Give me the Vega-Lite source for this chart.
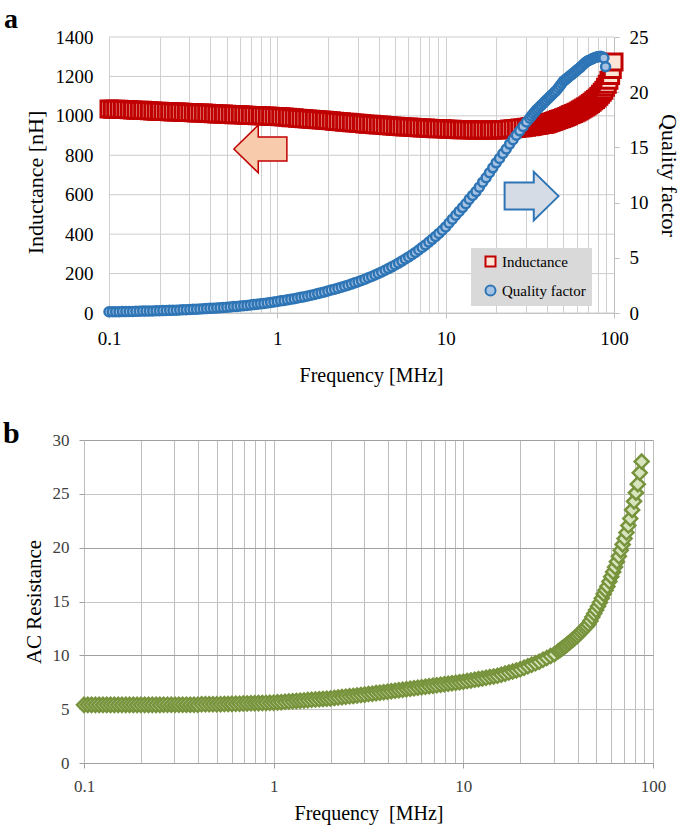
{
"$schema": "https://vega.github.io/schema/vega-lite/v6.json",
"background": "white",
"padding": {"left": 3, "top": 6, "right": 7, "bottom": 10},
"config": {
  "font": "Liberation Serif",
  "view": {"stroke": null},
  "style": {"guide-label": {"font": "Liberation Serif"}, "guide-title": {"font": "Liberation Serif"}},
  "axis": {"labelFont": "Liberation Serif", "titleFont": "Liberation Serif", "titleFontWeight": "normal", "titleColor": "black", "labelColor": "black"},
  "title": {"font": "Liberation Serif", "fontWeight": "bold", "color": "black", "baseline": "alphabetic"},
  "legend": {"orient": "none", "legendX": 387, "legendY": 211, "fillColor": "#d9d9d9", "padding": 6, "labelFont": "Liberation Serif", "labelFontSize": 15, "labelColor": "black", "symbolSize": 100, "symbolStrokeWidth": 2, "rowPadding": 10, "labelOffset": 4, "symbolOffset": 6}
},
"data": {"values": [
{"f":0.1,"L":1035,"Q":0.11,"R":5.4},{"f":0.1047,"L":1034,"Q":0.11,"R":5.4},{"f":0.1096,"L":1034,"Q":0.12,"R":5.4},{"f":0.1148,"L":1033,"Q":0.12,"R":5.4},{"f":0.1202,"L":1032,"Q":0.13,"R":5.4},
{"f":0.1259,"L":1032,"Q":0.13,"R":5.4},{"f":0.1318,"L":1031,"Q":0.14,"R":5.4},{"f":0.138,"L":1030,"Q":0.14,"R":5.4},{"f":0.1445,"L":1029,"Q":0.15,"R":5.4},{"f":0.1514,"L":1029,"Q":0.16,"R":5.4},
{"f":0.1585,"L":1028,"Q":0.17,"R":5.4},{"f":0.166,"L":1027,"Q":0.17,"R":5.4},{"f":0.1738,"L":1026,"Q":0.18,"R":5.4},{"f":0.182,"L":1025,"Q":0.19,"R":5.4},{"f":0.1905,"L":1024,"Q":0.2,"R":5.4},
{"f":0.1995,"L":1023,"Q":0.21,"R":5.4},{"f":0.2089,"L":1022,"Q":0.22,"R":5.4},{"f":0.2188,"L":1022,"Q":0.23,"R":5.4},{"f":0.2291,"L":1021,"Q":0.24,"R":5.4},{"f":0.2399,"L":1020,"Q":0.25,"R":5.4},
{"f":0.2512,"L":1020,"Q":0.26,"R":5.4},{"f":0.263,"L":1019,"Q":0.28,"R":5.42},{"f":0.2754,"L":1018,"Q":0.29,"R":5.42},{"f":0.2884,"L":1017,"Q":0.3,"R":5.42},{"f":0.302,"L":1017,"Q":0.32,"R":5.42},
{"f":0.3162,"L":1016,"Q":0.33,"R":5.42},{"f":0.3311,"L":1015,"Q":0.35,"R":5.42},{"f":0.3467,"L":1014,"Q":0.36,"R":5.42},{"f":0.3631,"L":1014,"Q":0.38,"R":5.42},{"f":0.3802,"L":1013,"Q":0.4,"R":5.42},
{"f":0.3981,"L":1012,"Q":0.42,"R":5.42},{"f":0.4169,"L":1011,"Q":0.44,"R":5.45},{"f":0.4365,"L":1010,"Q":0.46,"R":5.45},{"f":0.4571,"L":1009,"Q":0.48,"R":5.45},{"f":0.4786,"L":1009,"Q":0.5,"R":5.45},
{"f":0.5012,"L":1008,"Q":0.53,"R":5.45},{"f":0.5248,"L":1007,"Q":0.55,"R":5.46},{"f":0.5495,"L":1006,"Q":0.58,"R":5.47},{"f":0.5754,"L":1006,"Q":0.6,"R":5.48},{"f":0.6026,"L":1005,"Q":0.63,"R":5.49},
{"f":0.631,"L":1004,"Q":0.66,"R":5.5},{"f":0.6607,"L":1003,"Q":0.69,"R":5.51},{"f":0.6918,"L":1002,"Q":0.73,"R":5.52},{"f":0.7244,"L":1002,"Q":0.76,"R":5.53},{"f":0.7586,"L":1001,"Q":0.8,"R":5.54},
{"f":0.7943,"L":1000,"Q":0.83,"R":5.55},{"f":0.8318,"L":999,"Q":0.87,"R":5.56},{"f":0.871,"L":999,"Q":0.91,"R":5.57},{"f":0.912,"L":998,"Q":0.96,"R":5.58},{"f":0.955,"L":997,"Q":1.0,"R":5.59},
{"f":1,"L":997,"Q":1.05,"R":5.6},{"f":1.047,"L":995,"Q":1.1,"R":5.63},{"f":1.096,"L":994,"Q":1.14,"R":5.65},{"f":1.148,"L":993,"Q":1.19,"R":5.68},{"f":1.202,"L":991,"Q":1.25,"R":5.71},
{"f":1.259,"L":990,"Q":1.3,"R":5.73},{"f":1.318,"L":988,"Q":1.36,"R":5.76},{"f":1.38,"L":987,"Q":1.42,"R":5.79},{"f":1.445,"L":985,"Q":1.48,"R":5.81},{"f":1.514,"L":984,"Q":1.54,"R":5.84},
{"f":1.585,"L":983,"Q":1.61,"R":5.87},{"f":1.66,"L":981,"Q":1.68,"R":5.89},{"f":1.738,"L":980,"Q":1.76,"R":5.92},{"f":1.82,"L":979,"Q":1.83,"R":5.95},{"f":1.905,"L":978,"Q":1.91,"R":5.97},
{"f":1.995,"L":977,"Q":2.0,"R":6.0},{"f":2.089,"L":975,"Q":2.08,"R":6.04},{"f":2.188,"L":973,"Q":2.16,"R":6.08},{"f":2.291,"L":972,"Q":2.25,"R":6.12},{"f":2.399,"L":970,"Q":2.34,"R":6.16},
{"f":2.512,"L":968,"Q":2.43,"R":6.19},{"f":2.63,"L":967,"Q":2.52,"R":6.23},{"f":2.754,"L":965,"Q":2.62,"R":6.27},{"f":2.884,"L":964,"Q":2.73,"R":6.31},{"f":3.02,"L":962,"Q":2.84,"R":6.35},
{"f":3.162,"L":961,"Q":2.95,"R":6.4},{"f":3.311,"L":959,"Q":3.06,"R":6.44},{"f":3.467,"L":958,"Q":3.19,"R":6.49},{"f":3.631,"L":957,"Q":3.31,"R":6.53},{"f":3.802,"L":955,"Q":3.44,"R":6.58},
{"f":3.981,"L":954,"Q":3.58,"R":6.62},{"f":4.169,"L":953,"Q":3.72,"R":6.67},{"f":4.365,"L":951,"Q":3.87,"R":6.71},{"f":4.571,"L":950,"Q":4.02,"R":6.76},{"f":4.786,"L":949,"Q":4.18,"R":6.8},
{"f":5.012,"L":947,"Q":4.35,"R":6.85},{"f":5.248,"L":946,"Q":4.52,"R":6.9},{"f":5.495,"L":945,"Q":4.7,"R":6.94},{"f":5.754,"L":944,"Q":4.89,"R":6.99},{"f":6.026,"L":943,"Q":5.08,"R":7.04},
{"f":6.31,"L":942,"Q":5.28,"R":7.08},{"f":6.607,"L":941,"Q":5.49,"R":7.13},{"f":6.918,"L":940,"Q":5.71,"R":7.18},{"f":7.244,"L":939,"Q":5.94,"R":7.22},{"f":7.586,"L":938,"Q":6.17,"R":7.27},
{"f":7.943,"L":937,"Q":6.42,"R":7.32},{"f":8.318,"L":936,"Q":6.67,"R":7.36},{"f":8.71,"L":935,"Q":6.94,"R":7.41},{"f":9.12,"L":934,"Q":7.21,"R":7.46},{"f":9.55,"L":934,"Q":7.5,"R":7.5},
{"f":10,"L":933,"Q":7.8,"R":7.55},{"f":10.47,"L":932,"Q":8.15,"R":7.61},{"f":10.96,"L":932,"Q":8.5,"R":7.67},{"f":11.48,"L":931,"Q":8.85,"R":7.73},{"f":12.02,"L":930,"Q":9.2,"R":7.79},
{"f":12.59,"L":930,"Q":9.55,"R":7.85},{"f":13.18,"L":929,"Q":9.9,"R":7.91},{"f":13.8,"L":929,"Q":10.3,"R":7.98},{"f":14.45,"L":928,"Q":10.65,"R":8.04},{"f":15.14,"L":928,"Q":11.0,"R":8.1},
{"f":15.85,"L":928,"Q":11.4,"R":8.2},{"f":16.6,"L":928,"Q":11.85,"R":8.3},{"f":17.38,"L":928,"Q":12.25,"R":8.4},{"f":18.2,"L":928,"Q":12.7,"R":8.5},{"f":19.05,"L":928,"Q":13.15,"R":8.6},
{"f":19.95,"L":928,"Q":13.6,"R":8.7},{"f":20.89,"L":929,"Q":14.0,"R":8.84},{"f":21.88,"L":930,"Q":14.45,"R":8.98},{"f":22.91,"L":931,"Q":14.85,"R":9.12},{"f":23.99,"L":933,"Q":15.3,"R":9.26},
{"f":25.12,"L":934,"Q":15.7,"R":9.4},{"f":26.3,"L":936,"Q":16.1,"R":9.58},{"f":27.54,"L":938,"Q":16.5,"R":9.75},{"f":28.84,"L":940,"Q":16.9,"R":9.93},{"f":30.2,"L":942,"Q":17.3,"R":10.1},
{"f":31.62,"L":945,"Q":17.65,"R":10.37},{"f":32.36,"L":946,"Q":17.85,"R":10.5},{"f":33.11,"L":948,"Q":18.05,"R":10.63},{"f":33.88,"L":950,"Q":18.22,"R":10.77},{"f":34.67,"L":951,"Q":18.4,"R":10.9},
{"f":35.48,"L":952,"Q":18.55,"R":11.05},{"f":36.31,"L":954,"Q":18.7,"R":11.2},{"f":37.15,"L":956,"Q":18.85,"R":11.35},{"f":38.02,"L":957,"Q":19.0,"R":11.5},{"f":38.9,"L":958,"Q":19.15,"R":11.65},
{"f":39.81,"L":960,"Q":19.3,"R":11.8},{"f":40.74,"L":963,"Q":19.45,"R":11.98},{"f":41.69,"L":966,"Q":19.6,"R":12.17},{"f":42.66,"L":969,"Q":19.75,"R":12.35},{"f":43.65,"L":972,"Q":19.9,"R":12.53},
{"f":44.67,"L":975,"Q":20.05,"R":12.7},{"f":45.71,"L":978,"Q":20.2,"R":12.9},{"f":46.77,"L":981,"Q":20.4,"R":13.2},{"f":47.86,"L":984,"Q":20.6,"R":13.55},{"f":48.98,"L":987,"Q":20.8,"R":13.88},
{"f":50.12,"L":990,"Q":21.0,"R":14.2},{"f":51.29,"L":993,"Q":21.12,"R":14.55},{"f":52.48,"L":997,"Q":21.25,"R":14.9},{"f":53.7,"L":1001,"Q":21.38,"R":15.3},{"f":54.95,"L":1005,"Q":21.5,"R":15.7},
{"f":56.23,"L":1008,"Q":21.62,"R":16.05},{"f":57.54,"L":1012,"Q":21.75,"R":16.4},{"f":58.88,"L":1016,"Q":21.88,"R":16.85},{"f":60.26,"L":1020,"Q":22.0,"R":17.3},{"f":61.66,"L":1025,"Q":22.12,"R":17.75},
{"f":63.1,"L":1030,"Q":22.25,"R":18.2},{"f":64.57,"L":1035,"Q":22.4,"R":18.7},{"f":66.07,"L":1040,"Q":22.55,"R":19.2},{"f":67.61,"L":1045,"Q":22.68,"R":19.75},{"f":69.18,"L":1050,"Q":22.8,"R":20.3},
{"f":70.79,"L":1056,"Q":22.88,"R":20.85},{"f":72.44,"L":1063,"Q":22.95,"R":21.4},{"f":74.13,"L":1069,"Q":23.02,"R":22.05},{"f":75.86,"L":1076,"Q":23.1,"R":22.7},{"f":77.62,"L":1083,"Q":23.15,"R":23.5},
{"f":79.43,"L":1090,"Q":23.2,"R":24.3},{"f":81.28,"L":1100,"Q":23.22,"R":25.1},{"f":83.18,"L":1110,"Q":23.25,"R":25.9},{"f":85.11,"L":1120,"Q":23.2,"R":26.95},{"f":87.1,"L":1130,"Q":23.1,"R":28.0},
{"f":89.1,"L":1145,"Q":22.3},{"f":91.2,"L":1160},{"f":93.3,"L":1180},{"f":95.5,"L":1205},{"f":97.7,"L":1235},{"f":100,"L":1273}
]},
"spacing": 34,
"vconcat": [
 {
  "title": {"text": "a", "anchor": "start", "frame": "group", "dx": -80, "offset": -6, "fontSize": 28},
  "width": 530, "height": 276,
  "encoding": {
    "x": {"field": "f", "type": "quantitative", "scale": {"type": "log", "domain": [0.1, 100], "range": [25, 530]},
      "axis": {"values": [0.1,0.2,0.3,0.4,0.5,0.6,0.7,0.8,0.9,1,2,3,4,5,6,7,8,9,10,20,30,40,50,60,70,80,90,100],
        "labelExpr": "indexof([0.1,1,10,100], datum.value) >= 0 ? datum.value + '' : ''",
        "labelFlush": false, "labelOverlap": false, "labelFont": "Liberation Serif", "labelFontSize": 19, "labelPadding": 11,
        "tickSize": 5, "tickColor": "#bfbfbf",
        "tickOpacity": {"condition": {"test": "datum.value == 0.1 || datum.value == 1 || datum.value == 10 || datum.value == 100", "value": 1}, "value": 0},
        "gridColor": "#d0d0d0", "domainColor": "#bfbfbf",
        "title": "Frequency [MHz]", "titleFont": "Liberation Serif", "titleFontSize": 20, "titlePadding": 17, "titleX": 287}}
  },
  "layer": [
   {
    "encoding": {"y": {"field": "L", "type": "quantitative", "scale": {"domain": [0, 1400]},
      "axis": {"values": [0,200,400,600,800,1000,1200,1400], "format": "d", "ticks": false, "domain": false, "grid": false, "offset": -25, "labelPadding": 16, "labelFont": "Liberation Serif", "labelFontSize": 19,
        "title": "Inductance [nH]", "titleFont": "Liberation Serif", "titleFontSize": 22, "titlePadding": 8, "titleY": 145}}},
    "layer": [
     {"data": {"values": [
        {"L": 0, "f": 0.1}, {"L": 0, "f": 100}, {"L": 200, "f": 0.1}, {"L": 200, "f": 100},
        {"L": 400, "f": 0.1}, {"L": 400, "f": 100}, {"L": 600, "f": 0.1}, {"L": 600, "f": 100},
        {"L": 800, "f": 0.1}, {"L": 800, "f": 100}, {"L": 1000, "f": 0.1}, {"L": 1000, "f": 100},
        {"L": 1200, "f": 0.1}, {"L": 1200, "f": 100}, {"L": 1400, "f": 0.1}, {"L": 1400, "f": 100}]},
      "mark": {"type": "line", "stroke": "#cccccc", "strokeWidth": 1},
      "encoding": {"detail": {"field": "L", "type": "nominal"}}},
     {"data": {"values": [{"f": 0.793, "L": 832}]},
      "mark": {"type": "point", "shape": "M -1 0 L -0.08 -0.9 L -0.08 -0.45 L 1 -0.45 L 1 0.45 L -0.08 0.45 L -0.08 0.9 Z", "filled": true, "fill": "#f8cbad", "stroke": "#c00000", "strokeWidth": 1.5, "size": 2809, "opacity": 1}},
     {"data": {"values": [{"f": 32.4, "L": 593}]},
      "mark": {"type": "point", "shape": "M 1 0 L 0.08 -0.9 L 0.08 -0.5 L -1 -0.5 L -1 0.5 L 0.08 0.5 L 0.08 0.9 Z", "filled": true, "fill": "#d6dce5", "stroke": "#2e75b6", "strokeWidth": 2, "size": 2916, "opacity": 1}},
     {"mark": {"type": "point", "filled": true, "opacity": 1, "strokeWidth": 3, "size": 256},
      "encoding": {
        "shape": {"datum": "Inductance", "type": "nominal", "scale": {"domain": ["Inductance", "Quality factor"], "range": ["square", "circle"]}, "legend": {"title": null, "labelFont": "Liberation Serif", "labelExpr": "datum.label + '\u00a0\u00a0\u00a0'"}},
        "fill": {"datum": "Inductance", "type": "nominal", "scale": {"domain": ["Inductance", "Quality factor"], "range": ["#fce4d6", "#a6c2e2"]}, "legend": {"title": null, "labelFont": "Liberation Serif", "labelExpr": "datum.label + '\u00a0\u00a0\u00a0'"}},
        "stroke": {"datum": "Inductance", "type": "nominal", "scale": {"domain": ["Inductance", "Quality factor"], "range": ["#c00000", "#2e75b6"]}, "legend": {"title": null, "labelFont": "Liberation Serif", "labelExpr": "datum.label + '\u00a0\u00a0\u00a0'"}}
      }}
    ]
   },
   {
    "mark": {"type": "point", "filled": true, "opacity": 1, "strokeWidth": 2.5, "size": 81},
    "encoding": {
      "y": {"field": "Q", "type": "quantitative", "scale": {"domain": [0, 25]},
        "axis": {"orient": "right", "values": [0,5,10,15,20,25], "grid": false, "tickSize": 5, "tickColor": "#bfbfbf", "domainColor": "#bfbfbf",
          "labelPadding": 10, "labelFont": "Liberation Serif", "labelFontSize": 19, "title": "Quality factor", "titleFont": "Liberation Serif", "titleFontSize": 22, "titlePadding": 8}},
      "shape": {"datum": "Quality factor", "type": "nominal", "scale": {"domain": ["Inductance", "Quality factor"], "range": ["square", "circle"]}, "legend": {"title": null, "labelFont": "Liberation Serif", "labelExpr": "datum.label + '\u00a0\u00a0\u00a0'"}},
      "fill": {"datum": "Quality factor", "type": "nominal", "scale": {"domain": ["Inductance", "Quality factor"], "range": ["#fce4d6", "#a6c2e2"]}, "legend": {"title": null, "labelFont": "Liberation Serif", "labelExpr": "datum.label + '\u00a0\u00a0\u00a0'"}},
      "stroke": {"datum": "Quality factor", "type": "nominal", "scale": {"domain": ["Inductance", "Quality factor"], "range": ["#c00000", "#2e75b6"]}, "legend": {"title": null, "labelFont": "Liberation Serif", "labelExpr": "datum.label + '\u00a0\u00a0\u00a0'"}}
    }
   }
  ],
  "resolve": {"scale": {"y": "independent"}}
 },
 {
  "title": {"text": "b", "anchor": "start", "frame": "group", "dx": -81, "offset": -18, "fontSize": 30},
  "width": 569, "height": 323,
  "mark": {"type": "point", "shape": "diamond", "filled": true, "fill": "#d7e4bd", "stroke": "#77933c", "strokeWidth": 2.5, "size": 196, "opacity": 1},
  "encoding": {
    "x": {"field": "f", "type": "quantitative", "scale": {"type": "log", "domain": [0.1, 100]},
      "axis": {"values": [0.1,0.2,0.3,0.4,0.5,0.6,0.7,0.8,0.9,1,2,3,4,5,6,7,8,9,10,20,30,40,50,60,70,80,90,100],
        "labelExpr": "indexof([0.1,1,10,100], datum.value) >= 0 ? datum.value + '' : ''",
        "labelFlush": false, "labelOverlap": false, "labelFont": "Liberation Serif", "labelFontSize": 17, "labelColor": "#404040", "labelPadding": 10,
        "tickSize": 5, "tickColor": "#a0a0a0",
        "tickOpacity": {"condition": {"test": "datum.value == 0.1 || datum.value == 1 || datum.value == 10 || datum.value == 100", "value": 1}, "value": 0},
        "gridColor": "#bdbdbd", "domainColor": "#a0a0a0",
        "title": "Frequency \u00a0[MHz]", "titleFont": "Liberation Serif", "titleFontSize": 20, "titlePadding": 9}},
    "y": {"field": "R", "type": "quantitative", "scale": {"domain": [0, 30]},
      "axis": {"values": [0,5,10,15,20,25,30], "domain": false, "tickSize": 5, "tickColor": "#a0a0a0", "labelPadding": 10, "labelFont": "Liberation Serif", "labelFontSize": 17, "labelColor": "#404040",
        "gridColor": {"condition": {"test": "datum.value % 10 === 0", "value": "#a0a0a0"}, "value": "#c4c4c4"},
        "title": "AC Resistance", "titleFont": "Liberation Serif", "titleFontSize": 21, "titlePadding": 8}}
  }
 }
]
}
